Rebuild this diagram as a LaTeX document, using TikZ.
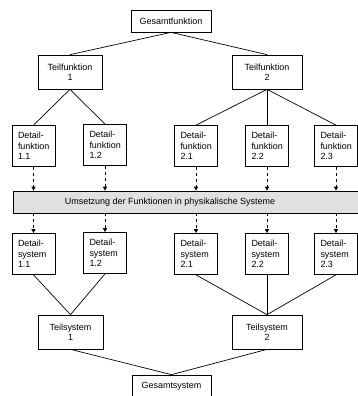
\documentclass[tikz,border=0pt]{standalone}
\usepackage{fontspec}
\setmainfont{Liberation Sans}
\usetikzlibrary{arrows.meta}
\begin{document}
\begin{tikzpicture}[x=1bp,y=-1bp,
  font=\fontsize{9}{10.5}\selectfont,
  box/.style={draw, line width=0.7pt, fill=white, align=center, inner sep=0pt},
  detbox/.style={draw, line width=0.7pt, fill=white, align=left, text width=31bp, minimum height=41bp, inner xsep=6bp, inner ysep=0pt},
  conn/.style={line width=0.7pt},
  darr/.style={line width=0.7pt, dash pattern=on 3bp off 3bp, -{Triangle[length=4bp,width=4bp]}}
]
\useasboundingbox (0,0) rectangle (358,396);
% top level
\node[box, minimum width=80bp, minimum height=22bp] (gf) at (171,21) {Gesamtfunktion};
\node[box, minimum width=64bp, minimum height=34bp] (tf1) at (70,72) {Teilfunktion\\1};
\node[box, minimum width=70bp, minimum height=34bp] (tf2) at (267,72) {Teilfunktion\\2};
% detail functions
\node[detbox] (df11) at (33.5,146) {Detail-\\funktion\\1.1};
\node[detbox] (df12) at (105,145) {Detail-\\funktion\\1.2};
\node[detbox] (df21) at (196,146) {Detail-\\funktion\\2.1};
\node[detbox] (df22) at (267,146) {Detail-\\funktion\\2.2};
\node[detbox] (df23) at (336,146) {Detail-\\funktion\\2.3};
% band
\node[draw, line width=0.7pt, fill=black!12, minimum width=350bp, minimum height=22bp, inner sep=0pt] (band) at (188,202) {};
\node (bandtxt) at (170,202) {Umsetzung der Funktionen in physikalische Systeme};
% detail systems
\node[detbox] (ds11) at (33.5,254) {Detail-\\system\\1.1};
\node[detbox] (ds12) at (105,253) {Detail-\\system\\1.2};
\node[detbox] (ds21) at (196,254) {Detail-\\system\\2.1};
\node[detbox] (ds22) at (267,254) {Detail-\\system\\2.2};
\node[detbox] (ds23) at (336,254) {Detail-\\system\\2.3};
% sub systems
\node[box, minimum width=65bp, minimum height=34bp] (ts1) at (70.5,332) {Teilsystem\\1};
\node[box, minimum width=70bp, minimum height=34bp] (ts2) at (267,332) {Teilsystem\\2};
\node[box, minimum width=79bp, minimum height=23bp] (gs) at (171.5,386.5) {Gesamtsystem};
% tree connectors
\draw[conn] (gf.south) -- (tf1.north);
\draw[conn] (gf.south) -- (tf2.north);
\draw[conn] (tf1.south) -- (df11.north);
\draw[conn] (tf1.south) -- (df12.north);
\draw[conn] (tf2.south) -- (df21.north);
\draw[conn] (tf2.south) -- (df22.north);
\draw[conn] (tf2.south) -- (df23.north);
\draw[conn] (ds11.south) -- (ts1.north);
\draw[conn] (ds12.south) -- (ts1.north);
\draw[conn] (ds21.south) -- (ts2.north);
\draw[conn] (ds22.south) -- (ts2.north);
\draw[conn] (ds23.south) -- (ts2.north);
\draw[conn] (ts1.south) -- (gs.north);
\draw[conn] (ts2.south) -- (gs.north);
% dashed arrows
\foreach \n in {11,12,21,22,23}{
  \draw[darr] (df\n.south) -- (df\n.south |- band.north);
  \draw[darr] (df\n.south |- band.south) -- (ds\n.north);
}
\end{tikzpicture}
\end{document}
